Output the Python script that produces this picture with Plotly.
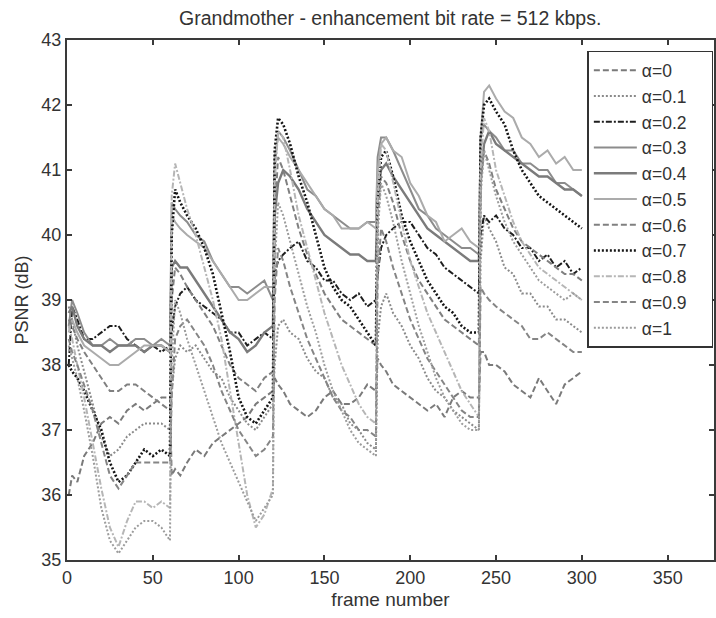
import plotly.graph_objects as go

# Frame numbers sampled within each 60-frame group of pictures
seg_offsets = [1, 3, 6, 10, 15, 20, 25, 30, 35, 40, 45, 50, 55, 60]
frames = [60 * k + o for k in range(5) for o in seg_offsets]

alpha_labels = ["α=0", "α=0.1", "α=0.2", "α=0.3", "α=0.4", "α=0.5",
                "α=0.6", "α=0.7", "α=0.8", "α=0.9", "α=1"]

# PSNR (dB) per alpha, five GOPs of 14 samples each
psnr_a00 = [36.0, 36.3, 36.2, 36.6, 36.8, 37.1, 37.2, 37.1, 37.3, 37.4, 37.3, 37.4, 37.5, 37.5,
            36.3, 36.4, 36.3, 36.5, 36.7, 36.6, 36.8, 36.9, 37.0, 37.1, 37.2, 37.4, 37.5, 37.6,
            37.8, 37.7, 37.6, 37.4, 37.3, 37.2, 37.3, 37.5, 37.6, 37.4, 37.4, 37.5, 37.7, 37.6,
            38.1, 38.0, 37.9, 37.7, 37.6, 37.5, 37.4, 37.3, 37.4, 37.2, 37.5, 37.6, 37.5, 37.5,
            38.2, 38.2, 38.0, 38.0, 37.9, 37.7, 37.6, 37.5, 37.8, 37.6, 37.4, 37.7, 37.8, 37.9]
psnr_a01 = [38.9, 38.7, 38.3, 37.9, 37.4, 36.9, 36.6, 36.7, 36.9, 37.0, 37.1, 37.1, 37.1, 37.0,
            37.6, 38.1, 38.3, 38.2, 38.3, 38.1, 37.9, 37.8, 37.5, 37.3, 37.1, 37.0, 37.2, 37.4,
            38.0, 38.6, 38.7, 38.5, 38.4, 38.1, 37.9, 37.8, 37.5, 37.4, 37.1, 37.0, 36.8, 36.7,
            38.4, 38.9, 39.1, 38.8, 38.6, 38.3, 38.1, 37.8, 37.6, 37.5, 37.3, 37.2, 37.1, 37.0,
            39.6, 40.3, 40.1, 39.9, 39.5, 39.4, 39.1, 39.1, 38.9, 38.9, 38.7, 38.7, 38.6, 38.5]
psnr_a02 = [38.0, 38.9, 38.7, 38.4, 38.4, 38.5, 38.6, 38.6, 38.4, 38.3, 38.2, 38.3, 38.2, 38.3,
            38.5, 38.9, 39.1, 39.2, 39.0, 38.9, 38.8, 38.7, 38.5, 38.5, 38.3, 38.4, 38.5, 38.4,
            39.4, 39.6, 39.7, 39.8, 39.9, 39.6, 39.5, 39.3, 39.3, 39.1, 39.0, 39.1, 38.9, 39.0,
            39.4, 39.8, 40.0, 40.1, 40.2, 40.2, 40.0, 39.8, 39.7, 39.5, 39.4, 39.3, 39.2, 39.1,
            40.0, 40.3, 40.2, 40.3, 40.1, 40.0, 39.8, 39.8, 39.6, 39.7, 39.5, 39.6, 39.4, 39.5]
psnr_a03 = [38.6, 39.0, 38.8, 38.5, 38.3, 38.3, 38.4, 38.3, 38.3, 38.4, 38.4, 38.3, 38.4, 38.3,
            40.5, 40.4, 40.3, 40.2, 40.0, 39.9, 39.6, 39.4, 39.2, 39.2, 39.1, 39.2, 39.3, 39.0,
            41.0, 41.6, 41.5, 41.3, 41.0, 40.7, 40.6, 40.4, 40.3, 40.2, 40.1, 40.1, 40.2, 40.2,
            41.2, 41.5, 41.5, 41.3, 41.0, 40.7, 40.4, 40.3, 40.1, 40.0, 39.9, 39.8, 39.8, 39.7,
            41.5, 41.7, 41.6, 41.5, 41.3, 41.3, 41.1, 41.1, 41.0, 41.0, 40.8, 40.8, 40.7, 40.6]
psnr_a04 = [38.8, 38.9, 38.6, 38.4, 38.3, 38.3, 38.2, 38.3, 38.3, 38.3, 38.2, 38.3, 38.3, 38.2,
            39.5, 39.6, 39.5, 39.5, 39.3, 39.1, 38.9, 38.7, 38.5, 38.4, 38.2, 38.3, 38.5, 38.6,
            40.3, 40.8, 41.0, 40.9, 40.7, 40.4, 40.2, 40.0, 39.9, 39.8, 39.7, 39.7, 39.6, 39.6,
            40.6, 41.0, 41.1, 40.9, 40.7, 40.5, 40.3, 40.1, 40.0, 39.9, 39.8, 39.7, 39.6, 39.6,
            40.8, 41.4, 41.6, 41.4, 41.3, 41.2, 41.1, 41.0, 40.9, 40.9, 40.8, 40.7, 40.7, 40.6]
psnr_a05 = [38.5, 38.7, 38.5, 38.3, 38.2, 38.1, 38.0, 38.0, 38.1, 38.2, 38.3, 38.3, 38.3, 38.2,
            40.3, 40.2, 40.1, 40.0, 39.9, 39.8, 39.6, 39.4, 39.2, 39.0, 39.0, 39.1, 39.2, 39.2,
            41.2, 41.5, 41.4, 41.2, 41.0, 40.8, 40.6, 40.4, 40.3, 40.1, 40.1, 40.1, 40.2, 40.1,
            41.0, 41.4, 41.5, 41.3, 41.2, 40.8, 40.6, 40.3, 40.2, 39.9, 40.0, 40.1, 39.9, 39.8,
            41.5, 42.2, 42.3, 42.1, 41.9, 41.8, 41.5, 41.4, 41.2, 41.3, 41.1, 41.2, 41.0, 41.0]
psnr_a06 = [38.7, 38.6, 38.4, 38.2, 38.0, 37.8, 37.6, 37.6, 37.7, 37.7, 37.6, 37.5, 37.4, 37.3,
            39.0, 39.5, 39.4, 39.2, 39.0, 38.8, 38.6, 38.3, 38.0, 37.8, 37.7, 37.6, 37.8, 37.9,
            40.3, 41.2, 41.0, 40.6, 40.1, 39.7, 39.4, 39.1, 38.9, 38.7, 38.6, 38.5, 38.4, 38.3,
            40.2, 40.9, 40.8, 40.5, 40.0, 39.6, 39.3, 39.1, 38.9, 38.7, 38.6, 38.5, 38.4, 38.3,
            40.8, 41.3, 41.1, 40.7, 40.4, 40.1, 39.9, 39.8, 39.7, 39.6, 39.5, 39.4, 39.4, 39.3]
psnr_a07 = [38.0, 37.9, 37.8, 37.6, 37.3, 37.0, 36.5, 36.2, 36.3, 36.5, 36.7, 36.6, 36.7, 36.6,
            40.0, 40.7, 40.5, 40.3, 40.1, 39.8, 39.4, 38.8, 38.2, 37.5, 37.2, 37.1, 37.3, 37.5,
            41.3, 41.8, 41.7, 41.4, 40.9, 40.5, 40.0, 39.5, 39.2, 39.0, 38.9, 38.7, 38.5, 38.3,
            40.5, 41.2, 41.3, 40.9, 40.3, 39.9, 39.6, 39.3, 39.1, 38.9, 38.8, 38.6, 38.5, 38.5,
            41.5, 42.0, 42.1, 41.9, 41.7, 41.3, 41.0, 40.8, 40.6, 40.5, 40.4, 40.3, 40.2, 40.1]
psnr_a08 = [38.6, 38.4, 38.0, 37.5, 36.8, 36.1, 35.5, 35.2, 35.6, 35.9, 35.9, 35.8, 35.9, 35.8,
            40.6, 41.1, 40.8, 40.4, 40.0, 39.5, 39.0, 38.4, 37.6, 36.8, 36.0, 35.5, 35.7, 36.1,
            40.8, 41.6, 41.5, 41.0, 40.3, 39.8, 39.3, 38.8, 38.4, 38.0, 37.7, 37.4, 37.2, 37.1,
            40.5, 41.4, 41.3, 40.8, 40.2, 39.6, 39.2, 38.8, 38.5, 38.2, 37.9, 37.6, 37.4, 37.2,
            41.0, 41.8, 41.6, 41.0, 40.6, 40.2, 39.9, 39.7, 39.5, 39.4, 39.3, 39.2, 39.1, 39.0]
psnr_a09 = [38.4, 38.2, 38.0, 37.7, 37.3, 36.8, 36.3, 36.1, 36.3, 36.5, 36.5, 36.5, 36.5, 36.5,
            37.5, 38.4, 38.6, 38.7, 38.5, 38.3, 38.0, 37.6, 37.3, 37.0, 36.8, 36.6, 36.7, 36.9,
            39.0, 39.8, 39.6, 39.2, 38.8, 38.4, 38.1, 37.8, 37.5, 37.3, 37.2, 37.0, 37.0, 36.9,
            39.3, 40.1, 39.9, 39.5, 39.1, 38.7, 38.4, 38.1, 37.9, 37.7, 37.5, 37.3, 37.2, 37.2,
            39.2, 39.1, 39.0, 38.9, 38.8, 38.7, 38.6, 38.4, 38.4, 38.5, 38.4, 38.3, 38.2, 38.2]
psnr_a10 = [38.3, 38.1, 37.8, 37.3, 36.6, 35.8, 35.3, 35.1, 35.3, 35.5, 35.6, 35.6, 35.5, 35.3,
            38.0, 39.0, 38.8, 38.4, 38.0, 37.6, 37.2, 36.8, 36.5, 36.2, 35.9, 35.6, 35.8, 36.0,
            39.5, 40.5, 40.3, 39.9, 39.4, 38.9, 38.5, 38.0, 37.6, 37.3, 37.0, 36.8, 36.7, 36.6,
            40.0, 40.8, 40.6, 40.2, 39.6, 39.1, 38.6, 38.2, 37.8, 37.5, 37.3, 37.1, 37.0, 37.0,
            40.6, 41.3, 41.0, 40.6, 40.2, 39.9, 39.7, 39.5, 39.3, 39.2, 39.1, 39.0, 39.1, 39.0]

series = [psnr_a00, psnr_a01, psnr_a02, psnr_a03, psnr_a04, psnr_a05,
          psnr_a06, psnr_a07, psnr_a08, psnr_a09, psnr_a10]

DASHED = "6px,3px"
DOTTED = "2px,2px"
DASHDOT = "6px,2px,2px,2px"
styles = [
    ("#7a7a7a", DASHED, 2.0),
    ("#8a8a8a", DOTTED, 2.0),
    ("#1e1e1e", DASHDOT, 2.0),
    ("#8c8c8c", "solid", 2.0),
    ("#7b7b7b", "solid", 2.4),
    ("#ababab", "solid", 2.0),
    ("#808080", DASHED, 2.0),
    ("#141414", DOTTED, 2.6),
    ("#b6b6b6", DASHDOT, 2.0),
    ("#858585", DASHED, 2.0),
    ("#9c9c9c", DOTTED, 2.0),
]

# non-breaking spaces keep a little room to the right of the legend labels
PAD = "\u00a0\u00a0\u00a0\u00a0"

fig = go.Figure()
for i, (label, vals) in enumerate(zip(alpha_labels, series)):
    color, dash, width = styles[i]
    fig.add_trace(go.Scatter(
        x=frames, y=vals, mode="lines", name=label + PAD,
        legendgroup=f"g{i}",
        line=dict(color=color, dash=dash, width=width),
    ))

font_family = "Liberation Sans, Arial, Helvetica, sans-serif"

fig.update_layout(
    width=716, height=618,
    margin=dict(l=67, r=0, t=40, b=58),
    paper_bgcolor="white", plot_bgcolor="white",
    font=dict(family=font_family, size=18, color="#333333"),
    title=dict(text="Grandmother - enhancement bit rate = 512 kbps.",
               x=0.545, xanchor="center", y=0.971, yanchor="middle",
               font=dict(size=19.5, color="#333333")),
    showlegend=True,
    legend=dict(
        x=0.999, xanchor="right", y=0.979, yanchor="top",
        bgcolor="white", bordercolor="#333333", borderwidth=1.5,
        font=dict(size=17.5, color="#333333"),
        tracegroupgap=0, itemwidth=43,
    ),
    xaxis=dict(
        range=[0, 377], tickmode="array", tickvals=[0, 50, 100, 150, 200, 250, 300, 350],
        ticks="inside", ticklen=5, tickwidth=1.5, tickcolor="#3a3a3a",
        showline=True, linecolor="#3a3a3a", linewidth=2, mirror="ticks",
        showgrid=False, zeroline=False,
        title=dict(text="frame number", font=dict(size=19), standoff=6),
        tickfont=dict(size=18),
    ),
    yaxis=dict(
        range=[35, 43], tickmode="array", tickvals=[35, 36, 37, 38, 39, 40, 41, 42, 43],
        ticks="inside", ticklen=5, tickwidth=1.5, tickcolor="#3a3a3a",
        showline=True, linecolor="#3a3a3a", linewidth=2, mirror="ticks",
        showgrid=False, zeroline=False,
        title=dict(text="PSNR (dB)", font=dict(size=18), standoff=8),
        tickfont=dict(size=18),
    ),
)

fig.write_html("out.html")
